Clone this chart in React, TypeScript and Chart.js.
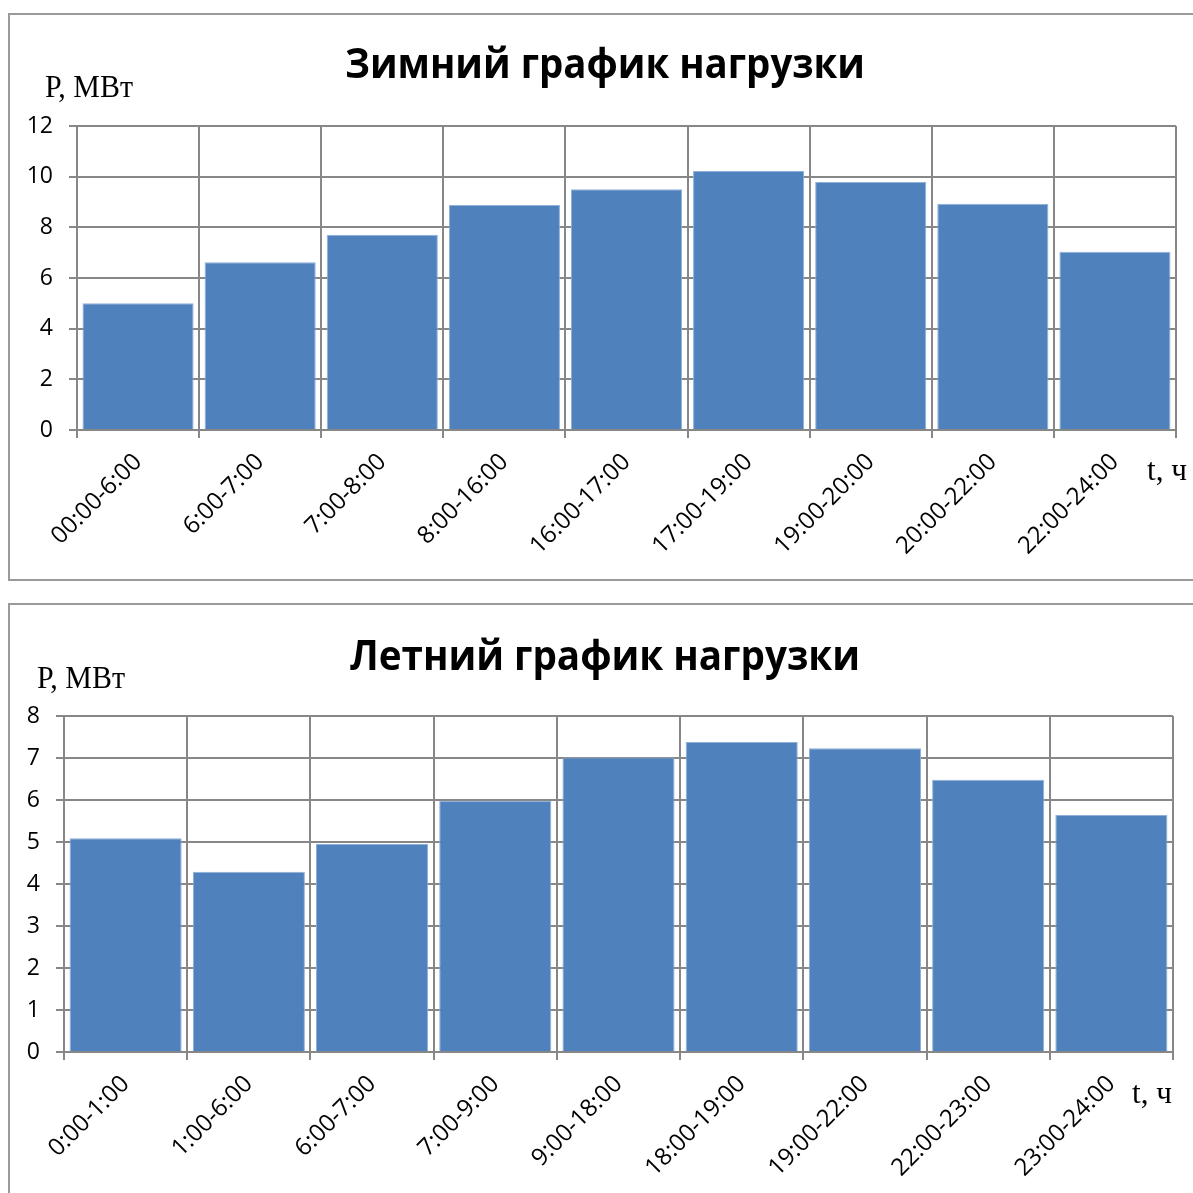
import React, { useEffect, useRef } from "react";
import { Chart, registerables } from "chart.js";

Chart.register(...registerables);

const winterLabels = ["00:00-6:00", "6:00-7:00", "7:00-8:00", "8:00-16:00", "16:00-17:00", "17:00-19:00", "19:00-20:00", "20:00-22:00", "22:00-24:00"];
const winterValues = [5.0, 6.62, 7.71, 8.88, 9.5, 10.22, 9.79, 8.93, 7.04];
const winterYMax = 12;
const winterYStep = 2;

const summerLabels = ["0:00-1:00", "1:00-6:00", "6:00-7:00", "7:00-9:00", "9:00-18:00", "18:00-19:00", "19:00-22:00", "22:00-23:00", "23:00-24:00"];
const summerValues = [5.09, 4.29, 4.95, 5.98, 7.01, 7.38, 7.23, 6.48, 5.64];
const summerYMax = 8;
const summerYStep = 1;

const winterTitle = "Зимний график нагрузки";
const summerTitle = "Летний график нагрузки";
const yAxisTitle = "P, МВт";
const xAxisTitle = "t, ч";

const GRID = "#878787";
const BAR = "#4F81BD";

type Cfg = {
  labels: string[];
  values: number[];
  yMax: number;
  yStep: number;
  title: string;
  width: number;
  height: number;
  plotLeft: number;
  plotTop: number;
  plotRight: number;
  plotBottom: number;
  titleX: number;
  titleY: number;
  titleW: number;
  pX: number;
  pY: number;
  tX: number;
  tY: number;
};

function fitText(ctx: CanvasRenderingContext2D, text: string, x: number, y: number, targetW: number) {
  const w = ctx.measureText(text).width;
  const s = targetW / w;
  ctx.save();
  ctx.translate(x, y);
  ctx.scale(s, 1);
  ctx.textAlign = "left";
  ctx.fillText(text, 0, 0);
  ctx.restore();
}

const textPlugin = {
  id: "extraTexts",
  afterDraw(chart: any, _args: any, opts: any) {
    const ctx = chart.ctx as CanvasRenderingContext2D;
    ctx.save();
    ctx.fillStyle = "#000";
    ctx.textBaseline = "alphabetic";
    ctx.font = "bold 41px 'Open Sans'";
    fitText(ctx, opts.title, opts.titleX - opts.titleW / 2, opts.titleY, opts.titleW);
    ctx.font = "31px 'Liberation Serif'";
    fitText(ctx, yAxisTitle, opts.pX, opts.pY, 88);
    fitText(ctx, xAxisTitle, opts.tX, opts.tY, 40);
    ctx.restore();
  },
};

function BarChart({ cfg }: { cfg: Cfg }) {
  const ref = useRef<HTMLCanvasElement | null>(null);
  useEffect(() => {
    if (!ref.current) return;
    const xHeight = 150;
    const chart = new Chart(ref.current, {
      type: "bar",
      data: {
        labels: cfg.labels,
        datasets: [
          {
            data: cfg.values,
            backgroundColor: BAR,
            borderColor: "#8fb0d8",
            borderWidth: 1,
            barPercentage: 0.91,
            categoryPercentage: 1,
          },
        ],
      },
      plugins: [textPlugin],
      options: {
        animation: false,
        responsive: false,
        devicePixelRatio: 1,
        layout: {
          padding: {
            left: 0,
            top: cfg.plotTop,
            right: cfg.width - cfg.plotRight,
            bottom: cfg.height - cfg.plotBottom - xHeight,
          },
        },
        plugins: {
          legend: { display: false },
          tooltip: { enabled: false },
          title: { display: false },
          extraTexts: {
            title: cfg.title,
            titleX: cfg.titleX,
            titleY: cfg.titleY,
            titleW: cfg.titleW,
            pX: cfg.pX,
            pY: cfg.pY,
            tX: cfg.tX,
            tY: cfg.tY,
          },
        } as any,
        scales: {
          x: {
            offset: true,
            afterFit: (scale: any) => {
              scale.height = xHeight;
            },
            grid: {
              offset: true,
              color: GRID,
              lineWidth: 2,
              tickLength: 8,
              drawTicks: true,
            },
            border: { color: GRID, width: 2 },
            ticks: {
              minRotation: 45,
              maxRotation: 45,
              autoSkip: false,
              padding: 10,
              color: "#000",
              font: { family: "'Open Sans'", size: 24 },
            },
          },
          y: {
            min: 0,
            max: cfg.yMax,
            afterFit: (scale: any) => {
              scale.width = cfg.plotLeft;
            },
            grid: {
              color: GRID,
              lineWidth: 2,
              tickLength: 8,
            },
            border: { color: GRID, width: 2 },
            ticks: {
              stepSize: cfg.yStep,
              padding: 16,
              color: "#000",
              font: { family: "'Open Sans'", size: 23 },
            },
          },
        },
      } as any,
    });
    return () => chart.destroy();
  }, [cfg]);
  return (
    <canvas
      ref={ref}
      width={cfg.width}
      height={cfg.height}
      style={{ width: cfg.width, height: cfg.height, display: "block" }}
    />
  );
}

const winterCfg: Cfg = {
  labels: winterLabels,
  values: winterValues,
  yMax: winterYMax,
  yStep: winterYStep,
  title: winterTitle,
  width: 1193,
  height: 590,
  plotLeft: 77,
  plotTop: 126,
  plotRight: 1176,
  plotBottom: 430,
  titleX: 605,
  titleY: 78,
  titleW: 520,
  pX: 45,
  pY: 97,
  tX: 1147,
  tY: 480,
};

const summerCfg: Cfg = {
  labels: summerLabels,
  values: summerValues,
  yMax: summerYMax,
  yStep: summerYStep,
  title: summerTitle,
  width: 1193,
  height: 603,
  plotLeft: 64,
  plotTop: 126,
  plotRight: 1173,
  plotBottom: 462,
  titleX: 605,
  titleY: 80,
  titleW: 510,
  pX: 37,
  pY: 98,
  tX: 1132,
  tY: 513,
};

export default function App() {
  return (
    <div
      style={{
        position: "fixed",
        left: 0,
        top: 0,
        width: 1193,
        height: 1193,
        overflow: "hidden",
        background: "#fff",
      }}
    >
      <div
        style={{
          position: "absolute",
          left: 8,
          top: 13,
          width: 1200,
          height: 564,
          border: "2px solid #9a9a9a",
        }}
      />
      <div
        style={{
          position: "absolute",
          left: 8,
          top: 603,
          width: 1200,
          height: 700,
          border: "2px solid #9a9a9a",
        }}
      />
      <div style={{ position: "absolute", left: 0, top: 0 }}>
        <BarChart cfg={winterCfg} />
      </div>
      <div style={{ position: "absolute", left: 0, top: 590 }}>
        <BarChart cfg={summerCfg} />
      </div>
    </div>
  );
}
